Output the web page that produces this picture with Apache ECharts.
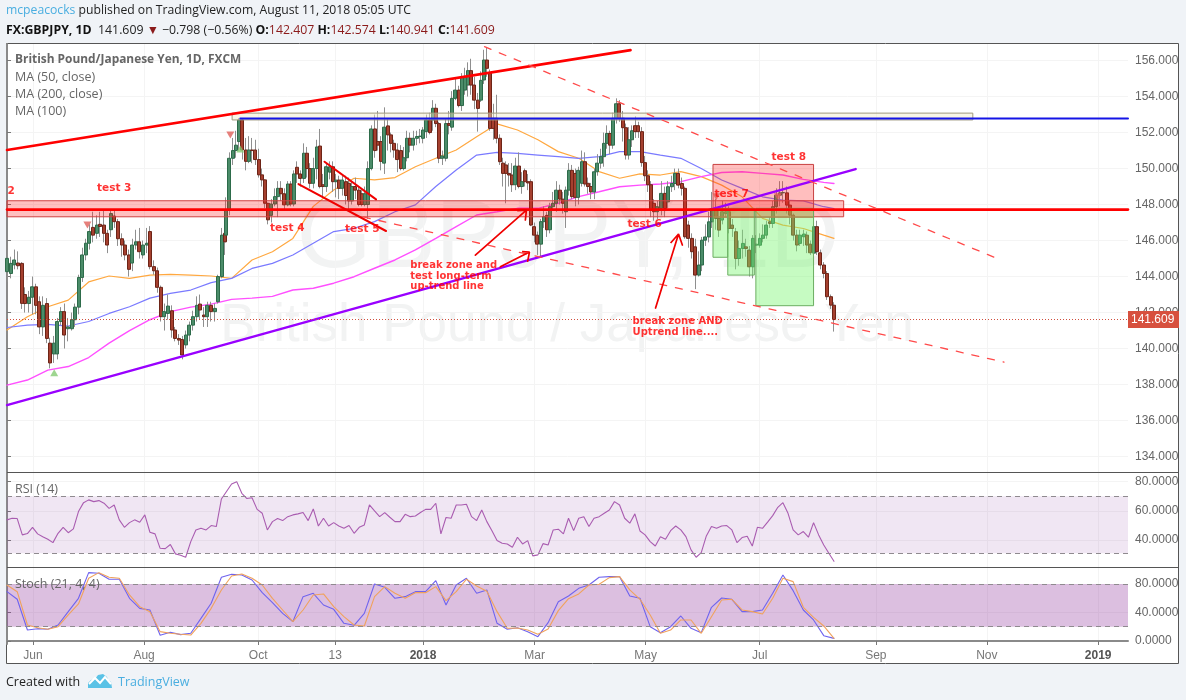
<!DOCTYPE html>
<html><head><meta charset="utf-8">
<style>html,body{margin:0;padding:0;background:#f0f3f7}#c{width:1186px;height:700px}</style>
<script src="https://cdn.jsdelivr.net/npm/echarts@6/dist/echarts.min.js"></script>
</head><body><div id="c"></div>
<script>
// candles: [open, close, low, high] in four stretches of the axis
const candlesA = [
[144.27,145.01,143.71,145.47],[144.17,144.73,143.9,145.1],[144.65,144.92,144.4,145.5],[144.75,144.6,144.4,145.4],
[144.73,142.51,142.2,144.8],[143.0,142.5,142.0,143.4],[142.5,142.85,142.0,143.2],[142.85,143.43,141.9,144.0],
[143.43,142.4,141.9,143.6],[142.6,141.2,140.8,142.9],[141.2,142.4,140.7,142.9],[142.5,140.56,140.3,142.8],
[140.3,139.2,138.9,140.6],[139.7,140.3,139.2,140.7],[139.7,141.5,139.4,141.7],[141.5,142.05,141.3,142.3],
[142.05,140.75,140.0,142.5],[141.1,141.2,140.4,141.7],[141.1,141.6,141.0,142.0],[141.6,142.3,141.2,142.5],
[142.3,143.95,141.9,144.1],[143.95,145.2,143.7,145.6],[145.2,145.85,144.9,146.1],[145.85,146.5,145.5,146.9],
[146.73,146.3,145.9,147.6],[146.4,146.86,146.1,147.4],[146.9,146.78,146.2,147.6],[146.86,146.4,145.9,147.7],
[146.4,145.75,145.3,146.6],[146.6,147.5,146.2,147.7],[147.36,147.05,146.7,147.7],[147.05,146.1,145.7,147.2],
[146.1,145.75,145.1,146.4],[145.75,145.2,144.9,146.0],[145.2,144.4,144.0,145.5],[144.75,145.75,144.3,146.1],
[145.75,145.93,145.5,146.6],[145.93,145.38,145.0,146.7],[145.2,145.75,145.0,146.0],[145.75,145.85,145.3,146.7],
[146.5,144.55,144.4,146.8],[144.55,144.32,144.1,144.9],[144.32,143.4,143.1,144.5],[143.4,141.77,141.5,143.5],
[141.77,142.05,141.0,142.5],[141.95,142.36,141.6,143.0],[142.1,141.03,140.6,142.4],[141.03,140.56,140.4,141.2],
[140.56,140.47,140.2,140.8],[140.5,139.64,139.4,140.7],[140.2,140.75,140.0,141.0],[140.75,141.3,140.4,141.5],
[141.3,141.77,141.0,142.1],[141.77,142.4,141.5,142.9],[142.47,142.14,141.6,143.0],[141.86,141.77,141.2,142.3],
[141.77,142.4,141.2,142.6],[142.4,142.05,141.5,142.6],[142.05,142.23,141.5,142.5],[142.6,144.0,142.5,144.1],
[144.0,146.3,143.9,146.7],[146.4,145.93,145.2,146.8]
];
const candlesB = [
[146.3,147.7,145.9,148.4],[147.7,150.57,147.4,150.9],[150.57,151.0,150.2,151.7],[151.0,151.3,150.6,152.1],
[151.5,152.7,151.0,152.8],[152.7,151.03,150.5,152.8],[151.03,150.4,149.9,151.7],[150.4,151.03,150.3,151.8],
[151.03,151.0,150.3,151.7],[151.03,150.5,150.2,151.6],[150.5,149.65,149.5,151.1],[149.65,149.37,149.0,150.0],
[149.37,148.07,147.8,149.4],[148.07,147.15,146.9,148.1],[147.4,148.03,147.0,148.3],[148.03,148.44,147.9,148.9],
[148.44,148.9,147.3,149.3],[148.9,148.6,148.2,149.3],[148.6,147.98,147.7,148.9],[147.98,149.14,147.9,149.3],
[149.14,148.03,147.9,149.3],[148.03,149.7,147.9,149.9],[150.07,149.7,149.2,150.4],[149.7,149.45,149.0,149.9],
[149.45,150.85,149.2,151.4],[150.85,150.0,149.5,151.2],[150.0,149.18,148.9,150.3],[149.18,150.0,148.9,150.6],
[150.0,151.2,149.4,151.6],[151.25,149.0,148.9,152.2],[149.1,149.0,148.4,149.7],[149.0,150.1,148.7,150.3],
[149.8,150.1,149.4,150.4],[150.1,149.27,148.7,150.4],[149.27,149.36,148.4,149.7],[149.36,148.9,148.3,149.6],
[148.9,149.36,148.5,149.6],[149.27,148.5,148.0,149.6],[149.18,148.2,147.6,149.5],[148.2,149.0,148.0,149.3],
[149.0,148.8,148.3,149.5],[148.8,148.0,147.9,149.0],[148.6,148.0,147.9,148.8],[148.0,148.6,147.9,149.0],
[148.0,150.0,147.2,150.4],[150.0,152.2,149.9,152.4],[152.2,151.0,150.6,153.0],[151.5,151.3,151.0,153.2],
[151.5,150.4,149.9,151.8],[150.3,152.3,149.7,153.4],[152.37,151.87,151.0,152.8],[151.87,151.4,150.9,152.0],
[151.4,151.03,150.6,151.6],[151.03,150.5,149.8,151.4],[151.0,150.0,149.9,151.3],[150.0,150.6,149.9,151.2],
[150.6,151.68,150.4,152.1],[151.68,151.3,150.9,152.0],[151.3,151.68,151.0,152.1],[151.68,151.78,151.3,152.1],
[151.78,151.8,151.4,152.2],[151.68,152.14,151.4,152.3],[152.05,152.7,151.7,153.0],[152.7,152.0,151.9,153.1],
[152.7,153.35,152.1,153.8],[153.35,152.5,152.3,153.6],[152.5,150.57,150.3,152.6],[150.57,150.7,150.2,151.0],
[150.57,152.5,150.4,152.8],[152.5,152.4,151.9,153.2],[152.3,153.9,152.1,154.3]
];
const candlesC = [
[153.9,154.36,153.8,155.0],[154.36,153.5,153.4,154.6],[153.5,155.1,153.2,155.3],[154.36,155.1,154.1,155.6],
[154.64,155.44,154.0,155.9],[155.44,154.64,154.1,156.1],[154.64,153.8,153.3,155.1],[153.8,153.34,152.05,154.2],
[153.8,154.9,153.7,155.4],[154.92,156.03,154.7,156.6],[156.03,155.57,155.1,156.7],[155.3,152.23,152.1,155.5],
[152.8,152.23,151.6,153.6],[152.8,151.68,151.4,154.1],[151.68,150.38,150.2,151.9],[150.3,149.73,149.0,150.6],
[150.2,149.73,148.07,150.4],[149.73,149.64,149.0,150.3],[149.64,149.1,148.7,150.3],[149.1,150.14,148.8,150.6],
[150.14,149.0,148.9,150.9],[149.0,149.27,148.6,149.8],[149.88,149.27,149.0,150.0],[149.27,149.2,148.8,149.7],
[149.27,146.86,146.8,149.4],[146.77,146.3,145.9,147.0],[146.3,145.8,145.2,146.5],[145.8,147.05,145.1,147.2],
[147.05,147.33,146.7,147.9],[147.4,146.6,146.2,147.6],[146.6,147.88,146.4,148.1],[147.88,148.07,147.7,148.7],
[148.07,148.8,147.6,149.3],[148.8,148.3,148.0,149.1],[148.3,148.07,147.5,148.7],[147.6,148.8,146.7,149.0],
[148.8,149.9,148.5,150.3],[149.9,148.44,148.3,150.2],[149.73,148.4,147.9,150.0],[148.4,149.9,148.0,150.1],
[149.18,150.38,149.0,151.0],[150.38,149.14,149.0,150.9],[149.18,149.0,148.6,149.5],[149.0,148.7,148.3,149.2],
[148.7,149.82,148.3,150.0],[149.82,150.3,149.6,150.8],[150.3,150.66,150.0,151.1],[150.66,151.4,150.1,152.0],
[151.4,151.95,151.1,152.4],[151.95,151.3,150.8,152.1],[151.3,152.8,151.1,153.1],[152.8,153.6,152.5,153.9],
[153.6,152.8,152.6,153.8],[152.8,152.27,151.5,153.2],[152.27,150.75,150.5,152.5],[150.75,151.6,150.5,152.3],
[151.6,152.1,151.2,152.4],[152.38,152.05,151.7,152.9],[152.38,152.05,151.7,152.6],[152.05,150.33,150.1,152.3],
[150.33,149.6,149.3,150.7],[149.6,149.1,148.7,149.9],[149.1,147.7,147.3,149.3],[148.07,147.6,147.1,148.3],
[147.6,147.88,147.2,148.2]
];
const candlesD = [
[147.78,148.62,147.4,149.3],[148.62,147.78,147.3,149.0],[148.15,148.99,147.8,149.3],[148.99,149.17,148.7,149.6],
[149.17,149.73,148.8,150.0],[149.73,149.08,148.9,150.0],[149.17,148.9,148.5,149.5],[148.9,146.21,146.1,149.0],
[146.86,146.12,145.6,147.1],[146.12,145.38,145.0,146.4],[145.65,144.08,143.3,146.1],[144.08,144.64,144.0,145.4],
[144.64,146.02,144.3,146.2],[146.02,146.2,145.7,146.9],[146.2,147.04,145.9,147.6],[147.04,147.78,146.7,148.7],
[147.78,147.23,146.6,148.3],[147.23,146.58,146.2,147.9],[147.14,147.6,146.9,148.2],[147.5,147.6,147.3,148.1],
[147.6,146.67,146.4,147.9],[146.86,146.67,146.2,147.2],[146.49,145.0,144.4,146.7],[145.0,145.56,144.6,146.0],
[145.56,145.84,145.0,146.6],[145.65,145.56,145.1,146.1],[145.47,144.54,144.0,145.7],[144.54,146.12,143.9,146.3],
[145.74,145.8,145.3,146.3],[145.74,146.12,145.6,146.4],[146.12,146.3,145.9,146.9],[146.3,146.86,146.1,147.1],
[147.04,146.95,146.7,147.3],[146.95,147.88,146.7,148.2],[147.88,148.52,147.5,148.9],[148.52,148.65,147.9,149.3],
[148.65,148.67,148.1,149.3],[148.65,147.97,147.5,149.0],[147.97,147.41,146.9,148.2],[147.41,146.3,146.0,147.5],
[146.3,145.75,145.4,146.6],[145.84,146.3,145.7,146.6],[146.21,146.36,145.7,146.6],[146.3,145.75,145.3,146.5],
[145.8,145.32,145.2,146.0],[145.3,146.77,145.2,147.0],[146.77,145.38,145.2,147.1],[145.32,144.64,144.4,145.5],
[144.64,144.17,143.9,144.8],[144.17,142.88,142.7,144.3],[142.88,142.41,142.2,143.0],[142.407,141.609,140.941,142.574]
];
// where each stretch of candles starts and ends on the session axis
const stretches = [[0.1,85.5],[85.9,174.4],[175.7,254.8],[256.4,324]];

const ma50 = [141.03,141.77,142.32,142.69,143.7,144.03,143.9,144.08,144.12,144.08,144.03,143.9,144.92,145.38,146.12,147.9,148.81,149.46,149.37,149.5,150.1,150.57,151.03,151.77,152.48,152.14,151.6,150.94,150.57,149.83,149.46,149.7,149.64,149.83,149.55,149.08,148.43,147.23,146.86,146.67,146.3,146.12];
const ma100 = [141.17,141.3,141.34,141.25,141.5,141.95,142.32,142.8,143.06,143.25,143.66,143.9,144.45,144.73,145.2,145.85,146.5,146.68,147.05,147.6,147.98,149,149.92,150.75,150.9,150.84,150.75,150.66,150.57,150.66,150.94,150.94,150.75,150.57,150,149.36,148.9,148.43,148.25,148.2,147.88,147.78];
const ma200 = [137.97,138.25,138.8,139,139.5,140.3,141,141.6,142.05,142.3,142.47,142.73,142.8,142.9,143.25,143.35,143.63,143.99,144.46,144.92,145.48,146.12,146.77,147.42,147.6,147.79,147.79,148.07,148.44,148.71,148.99,149.08,149.14,149.27,149.55,149.78,149.82,149.73,149.64,149.4,149.23,149.17];
const rsi = [53.8,54.9,54.7,43.5,44.4,48.7,44.2,42.3,40.5,38.2,44.6,48.7,45,47.6,59.5,65.6,67.5,66.3,67,65.2,61.7,64,53.8,48.7,51.9,53.8,52.2,57.2,45.3,44.2,34.3,34.1,36.9,30.5,29.6,28.2,38.9,46.9,48,46.9,49.9,49.2,68.1,73.2,78.4,80,72,68.4,69,61,58.3,46.9,52.6,54.7,53.3,56,57.2,57.9,58.8,53.3,61.3,49.6,54.9,49.6,51.9,49.6,48,49.9,44.6,48.7,50.3,64,59.9,56,58.8,55.6,52.6,52.6,57.6,56,56.5,58.8,61,61,65.2,44.2,55.4,54.9,64,64,64.5,56,53.3,60.6,52.6,46.4,39.6,37.8,37.3,35,41.9,37.3,39.6,29.1,29.8,37.5,36.6,46.9,47.4,44.2,54.9,46.4,54.9,56,49.2,54.9,56,58.3,60.6,66.3,64,54.9,51.5,57.9,46.2,43.5,38.9,35.9,42.3,40.5,46.4,49.6,46.9,42.3,33.2,28.2,31.4,42.8,49.2,48,49.6,49.9,46.9,38.2,41.7,42.6,35.9,48.7,48,52.2,56.7,62.4,65.6,58.3,46.9,43.5,45.8,41.9,51.9,43.5,36.6,30.9,25.4];
const stochK = [69.2,58.5,15.4,17.3,16.4,22.5,41.2,59.9,95.9,95,86.6,86.6,59.9,45.8,43.5,8,12.2,8.9,10.8,31.8,52.9,89.4,93.6,92.6,85.6,67.8,53.8,38.8,27.1,62.2,66.9,50.5,44.4,24.8,22,38.8,80,75.3,59.9,62.2,69.2,69.2,84.7,50.5,78.6,88,66.9,71.6,24.8,16.4,18.7,13.1,6.1,25.7,55.2,63.2,73.9,78.6,89.4,90.3,90.3,63.2,59.9,20.1,11.7,20.1,35.1,17.8,11.7,47.3,60.3,58.5,41.2,41.2,43.5,66.9,92.6,70.6,43.5,29.5,7.5,3.7];
const stochD = [78.6,69.2,22.5,18.7,16.4,20.1,36.5,52,88,95.9,89.4,88,64.6,48.2,41.2,13.1,10.8,9.4,8.4,24.8,45.8,71.6,91.2,94,88,78.6,59.9,43.5,27.1,43.5,64.6,66,48.2,34.1,22.5,21.1,62.2,76.3,66.9,59.9,67.8,67.8,76.3,56.6,69.2,86.6,77.2,69.7,41.2,17.8,18.2,15.4,9.4,16.8,42.6,59.4,66,78.6,79.5,88.9,90.3,71.6,58.5,36.5,10.8,15.4,29.5,29.5,10.8,34.1,57.5,58.5,43.5,41.2,37.9,59.9,88,83.3,47.3,33.2,21.1,3.7];

const lastSession = 324, lastClose = 141.609;
const maStep = 8, rsiStep = 2, stochStep = 4;

// axis ticks
const tickLabels = ['Jun','Aug','Oct','13','2018','Mar','May','Jul','Sep','Nov','2019'];
const tickSessions = [10.2,53.7,98.4,128.6,163,206.7,250.2,294.9,340.4,383.9,427.5];
const priceTicks = [134,136,138,140,142,144,146,148,150,152,154,156];
const rsiTicks = [40,60,80];
const stochTicks = [0,40,80];

// drawings: [session, price]
const upperChannel = [[0,151.03],[244.3,156.58]];
const uptrend = [[0,136.86],[332.5,149.97]];
const blueLevel = [[91.4,152.78],[439.2,152.78]];
const redLevel = [[0,147.72],[439.2,147.72]];
const dashUpper = [[187.1,156.77],[389.4,144.92]];
const dashLower = [[139.6,147.31],[390.6,139.25]];
const flagLower = [[114.2,149.14],[148.5,146.53]];
const flagUpper = [[124.4,150.38],[144.6,148.29]];
const arrow1 = [[183.5,145.19],[203.5,147.69],[199.9,147.66],[203.5,147.69],[203.1,147.14]];
const arrow2 = [[193.3,144.54],[204.7,145.36],[201.8,145.38],[204.7,145.36],[204,144.86]];
const arrow3 = [[254.1,142.25],[263.1,146.36],[260,145.86],[263.1,146.36],[264.6,145.75]];
const sellMarks = [[87.5,151.86],[31.5,146.86],[277.9,148.43],[302,148.43]];
const buyMarks = [[18.5,138.66],[91.4,151.08]];
// zones: [session from, price top, session to, price bottom]
const tanZone = [88.2,153.08,378.4,152.7];
const pinkBand = [0,148.21,327.8,147.32];
const redBox = [276.6,150.23,316,147.29];
const greenBoxes = [[276.6,147.79,282.4,145.07],[282.4,147.79,292.8,144.08],[293.4,147.79,316,142.38]];
const notes = [
 ['2',1.6,148.75],['test 3',42,148.92],['test 4',109.8,146.69],['test 5',139.2,146.64],
 ['test 6',249.8,146.92],['test 7',283.9,148.58],['test 8',306.3,150.64]
];
const longNotes = [
 ['break zone and\ntest long-term\nup-trend line',158,144.03],
 ['break zone AND\nUptrend line....',245.1,141.19]
];

const sans = '"Liberation Sans", Arial, sans-serif';
const ui = '"Open Sans", "Noto Sans", sans-serif';
const note = 'DejaVu Sans, Verdana, sans-serif';

function place(rows, range){
  return rows.map((r,i)=>[range[0]+(range[1]-range[0])*i/(rows.length-1), r[0],r[1],r[2],r[3]]);
}
const candles = [candlesA,candlesB,candlesC,candlesD].flatMap((rows,i)=>place(rows,stretches[i]));
const bodies = candles.map(c=>[c[0],c[1],c[2],Math.min(c[1],c[2]),Math.max(c[1],c[2])]);
const sampled = (vals,step)=>vals.map((v,i)=>[Math.min(i*step,lastSession),v]);

function lineS(name,data,color,width,type,z,grid){
  return {name,type:'line',data,xAxisIndex:grid||0,yAxisIndex:grid||0,showSymbol:false,symbol:'none',silent:true,z:z||4,
    lineStyle:{color,width,type:type||'solid',cap:'round'}};
}
function zone(name,z4,fill,border,z,bw){
  return {name,type:'line',data:[],xAxisIndex:0,yAxisIndex:0,silent:true,z:z||3,
    markArea:{silent:true,z:z||3,itemStyle:{color:fill,borderColor:border,borderWidth:bw==null?1:bw},
      data:z4.map(b=>[{xAxis:b[0],yAxis:b[1]},{xAxis:b[2],yAxis:b[3]}])}};
}
function band(grid,low,high,fill){
  return {type:'line',data:[],xAxisIndex:grid,yAxisIndex:grid,silent:true,z:1,
    markArea:{silent:true,itemStyle:{color:fill},data:[[{xAxis:0,yAxis:high},{xAxis:439.2,yAxis:low}]]},
    markLine:{silent:true,symbol:'none',label:{show:false},lineStyle:{color:'#8f8a8f',type:[5,4],width:1},
      data:[{yAxis:high},{yAxis:low}]}};
}
const xBase = {type:'value',min:0,max:439.2,
  axisLine:{show:true,lineStyle:{color:'#8a8a8a',width:1}},
  axisTick:{show:false,customValues:tickSessions},
  axisLabel:{show:false,customValues:tickSessions},
  splitLine:{show:true,lineStyle:{color:'#f4f4f4'}}};
function yBase(min,max,ticks,fmt){
  return {type:'value',position:'right',min,max,scale:true,
    axisLine:{show:true,lineStyle:{color:'#8a8a8a',width:2}},
    axisTick:{show:true,length:4,lineStyle:{color:'#777'},customValues:ticks},
    axisLabel:{color:'#666',fontFamily:sans,fontSize:12,margin:7,customValues:ticks,formatter:v=>v.toFixed(fmt)},
    splitLine:{show:true,lineStyle:{color:'#f4f4f4'}}};
}
const chart = echarts.init(document.getElementById('c'),null,{renderer:'canvas'});
const txt = (x,y,text,style)=>({type:'text',x,y,z:20,silent:true,style:Object.assign({text,fill:'#666',fontFamily:ui,fontSize:12.5,verticalAlign:'middle'},style||{})});
chart.setOption({
  animation:false,
  backgroundColor:'#f0f3f7',
  grid:[
    {left:7,top:44,width:1121,height:428},
    {left:7,top:472,width:1121,height:95},
    {left:7,top:567,width:1121,height:77}
  ],
  xAxis:[
    Object.assign({},xBase,{gridIndex:0,axisLine:{show:false}}),
    Object.assign({},xBase,{gridIndex:1,axisLine:{show:false}}),
    Object.assign({},xBase,{gridIndex:2,
      axisTick:{show:true,length:4,inside:false,lineStyle:{color:'#777'},customValues:tickSessions},
      axisLine:{show:true,lineStyle:{color:'#8a8a8a',width:2}},
      axisLabel:{show:true,customValues:tickSessions,color:'#777',fontFamily:sans,fontSize:12,margin:6,
        formatter:v=>{
          const i=tickSessions.indexOf(v), t=tickLabels[i]||'';
          return /^20/.test(t)?'{y|'+t+'}':t;
        },
        rich:{y:{fontWeight:'bold',color:'#555',fontFamily:sans,fontSize:12}}}})
  ],
  yAxis:[
    Object.assign(yBase(133.14,156.92,priceTicks,3),{gridIndex:0}),
    Object.assign(yBase(21.5,86.6,rsiTicks,4),{gridIndex:1}),
    Object.assign(yBase(-4.2,103.8,stochTicks,4),{gridIndex:2})
  ],
  graphic:{elements:[
    {type:'rect',z:-10,silent:true,shape:{x:6.5,y:43.5,width:1172,height:620},style:{fill:'#fff',stroke:'#555',lineWidth:1}},
    {type:'text',z:-5,silent:true,x:568,y:241,style:{text:'GBPJPY, 1D',fill:'#f2f3f3',fontFamily:sans,fontSize:96,align:'center',verticalAlign:'middle'}},
    {type:'text',z:-5,silent:true,x:567,y:326,style:{text:'British Pound / Japanese Yen',fill:'#f2f3f3',fontFamily:sans,fontSize:53,align:'center',verticalAlign:'middle'}},
    {type:'line',z:15,silent:true,shape:{x1:7,y1:472.5,x2:1179,y2:472.5},style:{stroke:'#555',lineWidth:1}},
    {type:'line',z:15,silent:true,shape:{x1:7,y1:567.5,x2:1179,y2:567.5},style:{stroke:'#555',lineWidth:1}},
    {type:'rect',z:16,silent:true,shape:{x:1130,y:645,width:48,height:6},style:{fill:'#fff'}},
    {type:'text',z:20,silent:true,x:6,y:11,style:{
      text:'{a|mcpeacocks} published on TradingView.com, August 11, 2018 05:05 UTC',
      fill:'#222',fontFamily:ui,fontSize:12.2,verticalAlign:'middle',
      rich:{a:{fill:'#4aaee0',fontFamily:ui,fontSize:12.2}}}},
    {type:'text',z:20,silent:true,x:6,y:30,style:{
      text:'{b|FX:GBPJPY, 1D}  141.609 {r|▼} −0.798 (−0.56%) {b|O:}{r|142.407} {b|H:}{r|142.574} {b|L:}{r|140.941} {b|C:}{r|141.609}',
      fill:'#222',fontFamily:ui,fontSize:12.3,verticalAlign:'middle',
      rich:{b:{fontWeight:'bold',fill:'#111',fontFamily:ui,fontSize:12.3},r:{fill:'#8b1a1a',fontFamily:ui,fontSize:12.3}}}},
    txt(15,60,'British Pound/Japanese Yen, 1D, FXCM',{fontWeight:'bold',fontSize:11.9}),
    txt(15,77,'MA (50, close)'),txt(15,94,'MA (200, close)'),txt(15,111,'MA (100)'),
    txt(15,489,'RSI (14)'),txt(15,584,'Stoch (21, 4, 4)'),
    {type:'text',z:20,silent:true,x:6,y:682,style:{text:'Created with',fill:'#222',fontFamily:ui,fontSize:12.5,verticalAlign:'middle'}},
    {type:'polygon',z:20,silent:true,shape:{points:[[88,688],[88,683],[91,680],[95,679],[98,675],[103,674],[107,677],[108,680],[111,682],[112,688]]},style:{fill:'#5ac2e6'}},
    {type:'polyline',z:21,silent:true,shape:{points:[[89,684],[95,678],[100,683],[105,677],[111,684]]},style:{stroke:'#fff',lineWidth:2,fill:null}},
    {type:'text',z:20,silent:true,x:118,y:682,style:{text:'TradingView',fill:'#4aaee0',fontFamily:ui,fontSize:12.5,verticalAlign:'middle'}}
  ]},
  series:[
    lineS('MA 50',sampled(ma50,maStep),'#ffa840',1.2,'solid',1),
    lineS('MA 100',sampled(ma100,maStep),'#7a7aff',1.2,'solid',1),
    lineS('MA 200',sampled(ma200,maStep),'#ff50ff',1.4,'solid',1),
    {name:'GBPJPY range',type:'candlestick',data:candles,xAxisIndex:0,yAxisIndex:0,barWidth:1,silent:true,z:2,
      itemStyle:{color:'#8f8f8f',color0:'#8f8f8f',borderColor:'#8f8f8f',borderColor0:'#8f8f8f',borderWidth:1},
      markLine:{silent:true,symbol:'none',z:6,
        lineStyle:{color:'#d0503f',type:[1,2],width:1},
        data:[{yAxis:lastClose,
          label:{show:true,position:'end',distance:0,formatter:lastClose.toFixed(3),color:'#fff',backgroundColor:'#d7503e',
            fontFamily:sans,fontSize:12,width:46,height:16,lineHeight:16,padding:[1,2,0,3],align:'left'}}]}},
    {name:'GBPJPY',type:'candlestick',data:bodies,xAxisIndex:0,yAxisIndex:0,barWidth:3.5,silent:true,z:3,
      itemStyle:{color:'#4b8c69',color0:'#a5402f',borderColor:'#2d6b4a',borderColor0:'#6d2417',borderWidth:1}},
    zone('tan zone',[tanZone],'rgba(240,232,200,0.45)','#a09a7e',4),
    zone('zone',[pinkBand],'rgba(255,30,30,0.28)','#d04040',4),
    zone('reaction box',[redBox],'rgba(255,40,40,0.3)','#c84040',4),
    zone('drop boxes',greenBoxes,'rgba(120,245,110,0.42)','#6cae62',4),
    lineS('channel',upperChannel,'#ff0000',2.6),
    lineS('uptrend',uptrend,'#9900ff',2.4),
    lineS('blue level',blueLevel,'#1414e6',2),
    lineS('red level',redLevel,'#ff0000',2.6),
    lineS('dash upper',dashUpper,'#ff4a4a',1.3,[7,9]),
    lineS('dash lower',dashLower,'#ff4a4a',1.3,[7,9]),
    lineS('flag lower',flagLower,'#f00000',2),
    lineS('flag upper',flagUpper,'#f00000',2),
    lineS('arrow 1',arrow1,'#f00000',1.7),
    lineS('arrow 2',arrow2,'#f00000',1.7),
    lineS('arrow 3',arrow3,'#f00000',1.7),
    {name:'sell',type:'scatter',data:sellMarks,symbol:'triangle',symbolRotate:180,symbolSize:[8,7],xAxisIndex:0,yAxisIndex:0,silent:true,z:5,itemStyle:{color:'#e0605a'}},
    {name:'buy',type:'scatter',data:buyMarks,symbol:'triangle',symbolSize:[8,7],xAxisIndex:0,yAxisIndex:0,silent:true,z:5,itemStyle:{color:'#86cc74'}},
    {name:'notes',type:'scatter',data:notes.map(n=>({value:[n[1],n[2]],name:n[0]})),symbolSize:0,xAxisIndex:0,yAxisIndex:0,silent:true,z:7,
      label:{show:true,position:'inside',formatter:p=>p.name,color:'#ff0000',fontFamily:note,fontSize:10.5,fontWeight:'bold'}},
    {name:'long notes',type:'scatter',data:longNotes.map(n=>({value:[n[1],n[2]],name:n[0]})),symbolSize:0,xAxisIndex:0,yAxisIndex:0,silent:true,z:7,
      label:{show:true,position:'right',distance:0,align:'left',lineHeight:10.5,formatter:p=>p.name,color:'#ff0000',fontFamily:note,fontSize:10,fontWeight:'bold'}},
    band(1,30.9,70,'rgba(150,80,170,0.14)'),
    lineS('RSI',sampled(rsi,rsiStep),'#a95cb0',1.1,'solid',3,1),
    band(2,20,80,'rgba(150,60,160,0.33)'),
    lineS('%K',sampled(stochK,stochStep),'#6f63ee',1.1,'solid',3,2),
    lineS('%D',sampled(stochD,stochStep),'#f0a25c',1.1,'solid',3,2)
  ]
});
</script></body></html>
